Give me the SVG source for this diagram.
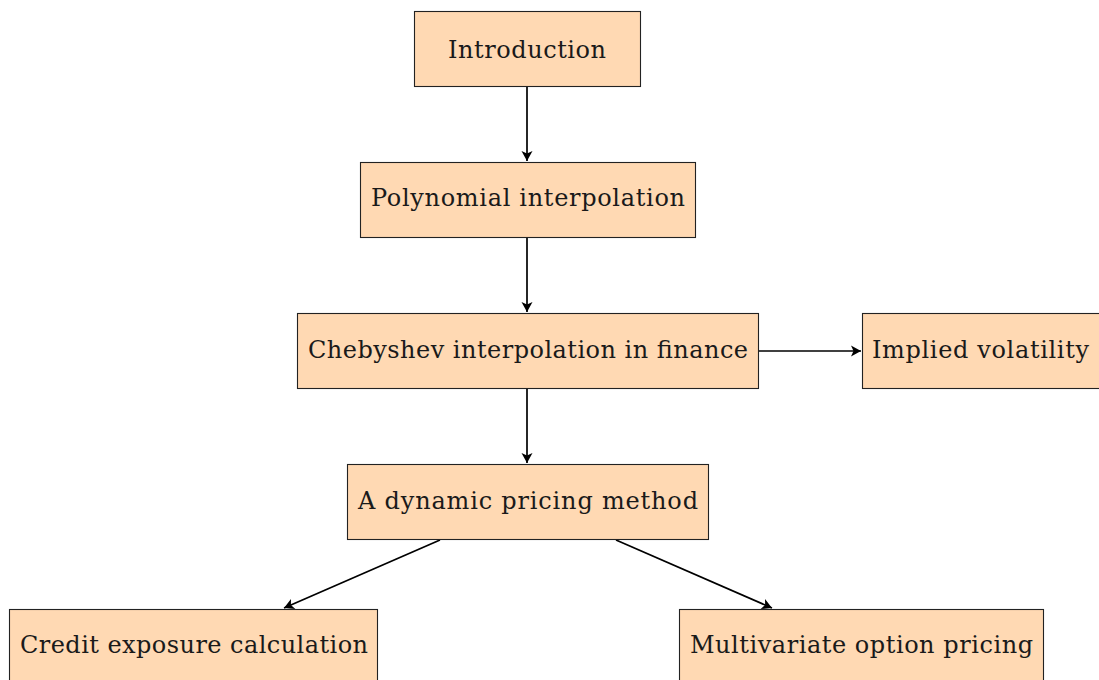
<svg xmlns="http://www.w3.org/2000/svg" width="1099" height="680" viewBox="0 0 1099 680">
<style>
.box{fill:#FFD9B3;stroke:#222;stroke-width:1.1}
.lbl{font-family:"DejaVu Serif","Liberation Serif",serif;font-size:24px;fill:#1a1a1a;text-anchor:middle}
.edge{stroke:#000;stroke-width:1.7;fill:none;marker-end:url(#ah)}
</style>
<defs>
<marker id="ah" markerUnits="userSpaceOnUse" markerWidth="16" markerHeight="16" viewBox="0 0 16 16" refX="13" refY="8" orient="auto">
<path d="M3,2.5 L13,8 L3,13.5 L5.5,8 Z" fill="#000"/>
</marker>
</defs>
<rect width="1099" height="680" fill="#fff"/>
<g id="edges">
<line class="edge" x1="527" y1="86" x2="527" y2="161"/>
<line class="edge" x1="527" y1="237" x2="527" y2="312"/>
<line class="edge" x1="527" y1="388" x2="527" y2="463"/>
<line class="edge" x1="759" y1="351" x2="861" y2="351"/>
<line class="edge" x1="440" y1="540" x2="284" y2="608"/>
<line class="edge" x1="616" y1="540" x2="772" y2="608"/>
</g>
<g id="n1"><rect class="box" x="414.5" y="11.5" width="226" height="75"/><text class="lbl" x="527" y="58" textLength="158">Introduction</text></g>
<g id="n2"><rect class="box" x="360.5" y="162.5" width="335" height="75"/><text class="lbl" x="528" y="206" textLength="314">Polynomial interpolation</text></g>
<g id="n3"><rect class="box" x="297.5" y="313.5" width="461" height="75"/><text class="lbl" x="528" y="358" textLength="440">Chebyshev interpolation in finance</text></g>
<g id="n4"><rect class="box" x="862.5" y="313.5" width="240" height="75"/><text class="lbl" x="980.5" y="358" textLength="217">Implied volatility</text></g>
<g id="n5"><rect class="box" x="347.5" y="464.5" width="361" height="75"/><text class="lbl" x="528" y="509" textLength="340">A dynamic pricing method</text></g>
<g id="n6"><rect class="box" x="9.5" y="609.5" width="368" height="78"/><text class="lbl" x="194" y="653" textLength="348">Credit exposure calculation</text></g>
<g id="n7"><rect class="box" x="679.5" y="609.5" width="364" height="78"/><text class="lbl" x="861.5" y="653" textLength="343">Multivariate option pricing</text></g>
</svg>
